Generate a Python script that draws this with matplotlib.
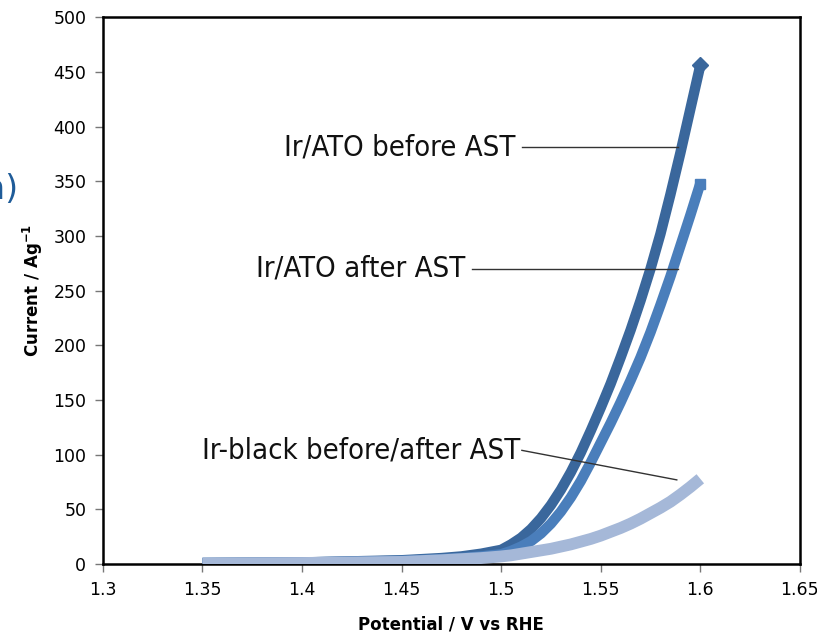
import numpy as np
import matplotlib.pyplot as plt
from matplotlib.ticker import FormatStrFormatter

# potential / V vs RHE
potential = [1.35, 1.40, 1.45, 1.47, 1.48, 1.49, 1.50,
             1.505, 1.51, 1.515, 1.52, 1.525, 1.53, 1.535, 1.54, 1.545, 1.55,
             1.555, 1.56, 1.565, 1.57, 1.575, 1.58, 1.585, 1.59, 1.595, 1.60]
# current / A g-1
ir_ato_before = [1, 1.5, 3.5, 5.5, 7, 9.5, 13,
                 18, 24, 32, 42, 54, 68, 84, 102, 122, 143,
                 165, 189, 214, 241, 270, 302, 338, 376, 416, 456]
ir_ato_after = [1, 1.5, 3, 4.5, 5.5, 7, 9,
                12, 16, 21, 28, 37, 48, 61, 76, 93, 111,
                129, 148, 168, 189, 212, 237, 263, 291, 319, 348]
ir_black = [0.5, 1, 2, 3.5, 4.5, 5.5, 7,
            8, 9.5, 11, 12.5, 14, 16, 18, 20.5, 23, 26,
            29.5, 33, 37, 41.5, 46.5, 51.5, 57, 63.5, 70.5, 78]

x_ticks = [1.3, 1.35, 1.4, 1.45, 1.5, 1.55, 1.6, 1.65]
y_ticks = [0, 50, 100, 150, 200, 250, 300, 350, 400, 450, 500]

fig = plt.figure(figsize=(8.17, 6.41), dpi=100)
ax = fig.add_axes([0.126, 0.12, 0.853, 0.853])

last = [len(potential) - 1]
ax.plot(potential, ir_ato_before, color='#3A679C', lw=7.5, marker='D', ms=8,
        markevery=last, solid_capstyle='butt', solid_joinstyle='round', zorder=2)
ax.plot(potential, ir_ato_after, color='#4A7EBB', lw=7.5, marker='s', ms=7,
        markevery=last, solid_capstyle='butt', solid_joinstyle='round', zorder=3)
ax.plot(potential, ir_black, color='#A5B8D8', lw=8.5,
        solid_capstyle='butt', solid_joinstyle='round', zorder=4)

# labels with leader lines
lab_font = dict(fontsize=21, color='#111111', family='DejaVu Sans',
                fontstretch='condensed', fontweight='light')
ax.text(1.507, 381, 'Ir/ATO before AST', ha='right', va='center', **lab_font)
ax.plot([1.5104, 1.589], [381, 381], color='#333333', lw=1, zorder=5)
ax.text(1.482, 270, 'Ir/ATO after AST', ha='right', va='center', **lab_font)
ax.plot([1.4853, 1.5887], [270, 270], color='#333333', lw=1, zorder=5)
ax.text(1.5095, 104, 'Ir-black before/after AST', ha='right', va='center', **lab_font)
ax.plot([1.5104, 1.5882], [104, 77], color='#333333', lw=1, zorder=5)

ax.set_xlim(1.3, 1.65)
ax.set_ylim(0, 500)
ax.set_xticks(x_ticks)
ax.set_yticks(y_ticks)
ax.xaxis.set_major_formatter(FormatStrFormatter('%g'))
ax.tick_params(direction='out', length=6, width=1, labelsize=12.5, pad=6,
               color='#777777')
for s in ax.spines.values():
    s.set_linewidth(1.8)
    s.set_color('black')

ax.set_xlabel('Potential / V vs RHE', fontsize=12, fontweight='bold', labelpad=12)
ax.set_ylabel('Current / Ag$^{\\mathbf{-1}}$', fontsize=12, fontweight='bold', labelpad=6)

# cut-off text from the slide on the left edge
fig.text(0.022, 0.704, 'n)', ha='right', va='center', fontsize=24, color='#1F5C99')

fig.savefig('out.png', dpi=100)
